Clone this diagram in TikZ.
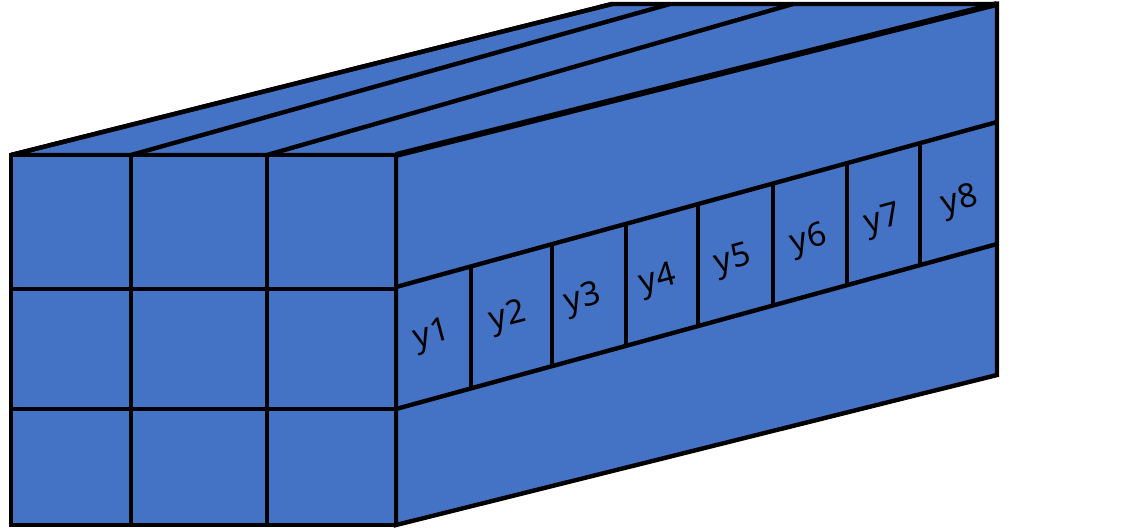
\documentclass[tikz,border=0pt]{standalone}
\usepackage{fontspec}
\setmainfont{Noto Sans}
\definecolor{faceblue}{HTML}{4472C4}
\begin{document}
\begin{tikzpicture}[x=1pt,y=-1pt,
  face/.style={fill=faceblue,draw=black,line width=4.4pt,line join=miter,miter limit=2},
  edge/.style={draw=black,line width=4.4pt},
  thickedge/.style={draw=black,line width=6pt},
  lab/.style={font=\fontsize{33}{33}\selectfont,rotate=15,inner sep=0pt,anchor=center}]
\useasboundingbox (0,0) rectangle (1121,530);
% corners
\coordinate (fTL) at (11,155);
\coordinate (fTR) at (396,155);
\coordinate (fBL) at (11,525);
\coordinate (fBR) at (396,525);
\coordinate (bTL) at (612,4);
\coordinate (bTR) at (997,4);
\coordinate (bBR) at (997,375);
% faces
\path[face] (fTL) -- (bTL) -- (bTR) -- (fTR) -- cycle;
\path[face] (fTR) -- (bTR) -- (bBR) -- (fBR) -- cycle;
\path[face] (fTL) rectangle (fBR);
% top face lines
\coordinate (t1) at (131,155); \coordinate (t1b) at (670,4);
\coordinate (t2) at (267,155); \coordinate (t2b) at (793,4);
\draw[edge] (t1) -- (t1b);
\draw[edge] (t2) -- (t2b);
\draw[thickedge] (fTR) -- (bTR);
\draw[edge] (fTL) -- (bTL);
% front grid
\coordinate (g1t) at (131,155); \coordinate (g1b) at (131,525);
\coordinate (g2t) at (267,155); \coordinate (g2b) at (267,525);
\coordinate (h1l) at (11,289); \coordinate (h1r) at (396,289);
\coordinate (h2l) at (11,409); \coordinate (h2r) at (396,409);
\draw[edge] (g1t) -- (g1b);
\draw[edge] (g2t) -- (g2b);
\draw[edge] (h1l) -- (h1r);
\draw[edge] (h2l) -- (h2r);
% strip on right face
\coordinate (uL) at (396,287); \coordinate (uR) at (997,122);
\coordinate (lL) at (396,409); \coordinate (lR) at (997,244);
\draw[edge] (uL) -- (uR);
\draw[edge] (lL) -- (lR);
\foreach \x/\a/\b [count=\i] in {471/268/388,552/245/366,626/226/347,698/205/324,773/185/307,847/165/286,920/145/264}{
  \coordinate (d\i a) at (\x,\a);
  \coordinate (d\i b) at (\x,\b);
  \draw[edge] (d\i a) -- (d\i b);
}
% labels
\node[lab] (y1) at (432,336) {y1};
\node[lab] (y2) at (508,318) {y2};
\node[lab] (y3) at (583,300) {y3};
\node[lab] (y4) at (658,281) {y4};
\node[lab] (y5) at (733,261) {y5};
\node[lab] (y6) at (809,241) {y6};
\node[lab] (y7) at (883,221) {y7};
\node[lab] (y8) at (960,202) {y8};
\end{tikzpicture}
\end{document}
